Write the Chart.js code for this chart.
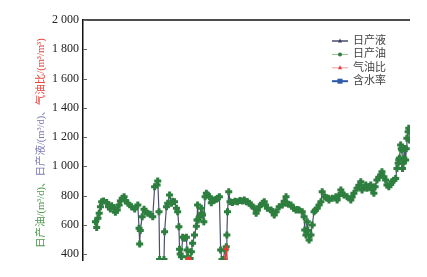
<!DOCTYPE html>
<html>
<head>
<meta charset="utf-8">
<script src="https://cdn.jsdelivr.net/npm/chart.js@4/dist/chart.umd.min.js"></script>
<style>
  html, body { margin: 0; padding: 0; background: #fff; }
  #wrap { width: 427px; height: 277px; }
</style>
</head>
<body>
<div id="wrap"><canvas id="c" width="427" height="277"></canvas></div>
<script>
// production days (x)
const days = [0,2,4,6,8,10,13,18,21,24,26,30,32,35,38,40,43,46,48,52,58,63,68,70,71,72,75,78,80,84,88,92,95,99,100,102,103,110,111,114,116,119,122,124,127,130,132,134,135,136,138,140,143,146,147,148,150,152,154,156,159,162,163,164,165,167,170,171,172,174,176,178,180,183,186,188,191,194,196,199,201,203,205,208,210,211,212,214,216,220,224,228,232,236,239,242,244,247,250,255,258,260,263,268,271,273,276,282,284,287,290,295,300,303,306,307,310,314,318,322,324,327,332,335,336,338,340,341,343,346,348,351,353,356,359,362,364,368,371,374,375,380,386,388,391,394,396,399,404,410,412,415,420,423,426,428,431,434,436,439,442,444,447,449,452,455,458,460,463,466,468,471,474,476,479,482,484,486,487,488,490,491,492,493,494,495,496,498,499,500,502,503,504];

// 日产油 (m3/d)
const oilDaily = [621,582,644,678,723,758,762,753,723,708,730,716,685,701,735,762,781,792,765,747,723,708,735,576,468,560,655,706,689,678,671,655,860,872,899,689,362,362,552,723,747,803,747,760,758,712,689,586,432,400,381,514,507,514,427,381,365,370,416,473,530,590,632,735,632,655,712,678,667,621,792,815,803,792,751,765,769,775,781,792,427,360,362,427,450,530,689,826,758,753,760,758,765,762,769,758,758,747,735,712,678,700,723,747,758,735,712,701,690,667,689,723,735,760,792,747,740,735,712,701,705,701,689,655,564,530,621,560,496,530,598,689,700,712,735,758,826,792,785,781,769,781,792,769,800,838,815,803,792,769,790,815,849,870,894,838,855,872,849,860,872,840,815,860,906,925,940,963,929,906,872,860,875,894,905,917,985,1020,1043,1054,1145,1120,1111,985,1020,1054,1122,1043,1120,1191,1236,1259,1180];

// 日产液 (m3/d) - runs on top of the oil rate in this picture
const liquidDaily = oilDaily.slice();

// 气油比 (m3/m3) - only shows where it pokes above the axis minimum
const gasDays = [145,148,151,154,207,210,212];
const gasOilRatio = [330,368,366,330,330,440,330];

// 含水率 - not visible on this axis
const waterDays = [];
const waterCut = [];

const yTicks = [400,600,800,1000,1200,1400,1600,1800,2000];
const legendNames = ['日产液','日产油','气油比','含水率'];
const titleParts = [
  ['日产油/(m³/d)、', '#4c984c'],
  ['日产液/(m³/d)、', '#7c7cb4'],
  ['气油比/(m³/m³)', '#e8453c']
];

const pts = (xs, ys) => xs.map((x, i) => ({ x, y: ys[i] }));
const fmt = v => String(v).replace(/\B(?=(\d{3})+(?!\d))/g, ' ');

const legendStyle = [
  { line: '#4a4f6e', lw: 1.5, pt: 'tri', fill: '#3a3f60', r: 2 },
  { line: '#8fc08f', lw: 1, pt: 'dot', fill: '#2f7d3c', r: 2 },
  { line: '#f2a0a0', lw: 1, pt: 'tri', fill: '#e53935', r: 2 },
  { line: '#2c5aa8', lw: 2, pt: 'sq', fill: '#2c5aa8', r: 2.5 }
];

const decor = {
  id: 'decor',
  afterDraw(chart) {
    const { ctx, chartArea: a, scales: { y } } = chart;
    ctx.save();
    // top frame line
    ctx.strokeStyle = '#111';
    ctx.lineWidth = 1.3;
    ctx.beginPath();
    ctx.moveTo(a.left, a.top);
    ctx.lineTo(a.right, a.top);
    ctx.stroke();
    // inward tick marks
    ctx.strokeStyle = '#666';
    ctx.lineWidth = 1;
    yTicks.forEach(v => {
      const py = Math.round(y.getPixelForValue(v)) + 0.5;
      ctx.beginPath();
      ctx.moveTo(a.left, py);
      ctx.lineTo(a.left + 4, py);
      ctx.stroke();
    });
    // multi-coloured rotated axis title
    ctx.font = '10.5px "Liberation Serif", "Noto Sans CJK SC"';
    ctx.textBaseline = 'middle';
    ctx.textAlign = 'left';
    ctx.translate(41, 248);
    ctx.rotate(-Math.PI / 2);
    let tx = 0;
    titleParts.forEach(([t, c]) => {
      ctx.fillStyle = c;
      ctx.fillText(t, tx, 0);
      tx += ctx.measureText(t).width;
    });
    ctx.setTransform(1, 0, 0, 1, 0, 0);
    // legend
    ctx.font = '11px "Liberation Serif", "Noto Sans CJK SC"';
    legendNames.forEach((name, i) => {
      const s = legendStyle[i];
      const ly = 41 + i * 13.4;
      ctx.strokeStyle = s.line;
      ctx.lineWidth = s.lw;
      ctx.beginPath();
      ctx.moveTo(332, ly);
      ctx.lineTo(348, ly);
      ctx.stroke();
      ctx.fillStyle = s.fill;
      ctx.beginPath();
      if (s.pt === 'dot') ctx.arc(340, ly, s.r, 0, Math.PI * 2);
      else if (s.pt === 'sq') ctx.rect(340 - s.r, ly - s.r, s.r * 2, s.r * 2);
      else { ctx.moveTo(340, ly - s.r - 0.5); ctx.lineTo(340 + s.r, ly + s.r - 0.5); ctx.lineTo(340 - s.r, ly + s.r - 0.5); ctx.closePath(); }
      ctx.fill();
      ctx.fillStyle = '#444';
      ctx.fillText(name, 353, ly);
    });
    ctx.restore();
  }
};

new Chart(document.getElementById('c'), {
  type: 'line',
  data: {
    datasets: [
      {
        label: legendNames[0],
        data: pts(days, liquidDaily),
        borderColor: '#4a4f6e',
        borderWidth: 1.2,
        pointRadius: 0,
        tension: 0,
        clip: 0,
        order: 2
      },
      {
        label: legendNames[1],
        data: pts(days, oilDaily),
        showLine: false,
        pointStyle: 'cross',
        pointRadius: 3.5,
        pointBorderWidth: 3,
        pointBorderColor: '#2e7f3f',
        pointBackgroundColor: '#2e7f3f',
        clip: 0,
        order: 1
      },
      {
        label: legendNames[2],
        data: pts(gasDays, gasOilRatio),
        borderColor: '#e53935',
        borderWidth: 1.5,
        pointStyle: 'triangle',
        pointRadius: 2,
        pointBackgroundColor: '#e53935',
        pointBorderColor: '#e53935',
        clip: 0,
        order: 0
      },
      {
        label: legendNames[3],
        data: pts(waterDays, waterCut),
        borderColor: '#2c5aa8',
        pointStyle: 'rect',
        clip: 0,
        order: 0
      }
    ]
  },
  options: {
    responsive: false,
    animation: false,
    devicePixelRatio: 1,
    layout: { padding: { top: 20, right: 17, bottom: 17, left: 0 } },
    plugins: { legend: { display: false }, tooltip: { enabled: false } },
    scales: {
      x: { type: 'linear', display: false, min: -20, max: 505 },
      y: {
        min: 359,
        max: 2000,
        afterBuildTicks: s => { s.ticks = yTicks.map(v => ({ value: v })); },
        afterFit: s => { s.width = 83; },
        grid: { display: false, drawTicks: false },
        border: { display: true, color: '#111', width: 1.5 },
        ticks: {
          padding: 4,
          color: '#222',
          font: { family: '"Liberation Serif"', size: 12 },
          callback: v => fmt(v)
        }
      }
    }
  },
  plugins: [decor]
});
</script>
</body>
</html>
